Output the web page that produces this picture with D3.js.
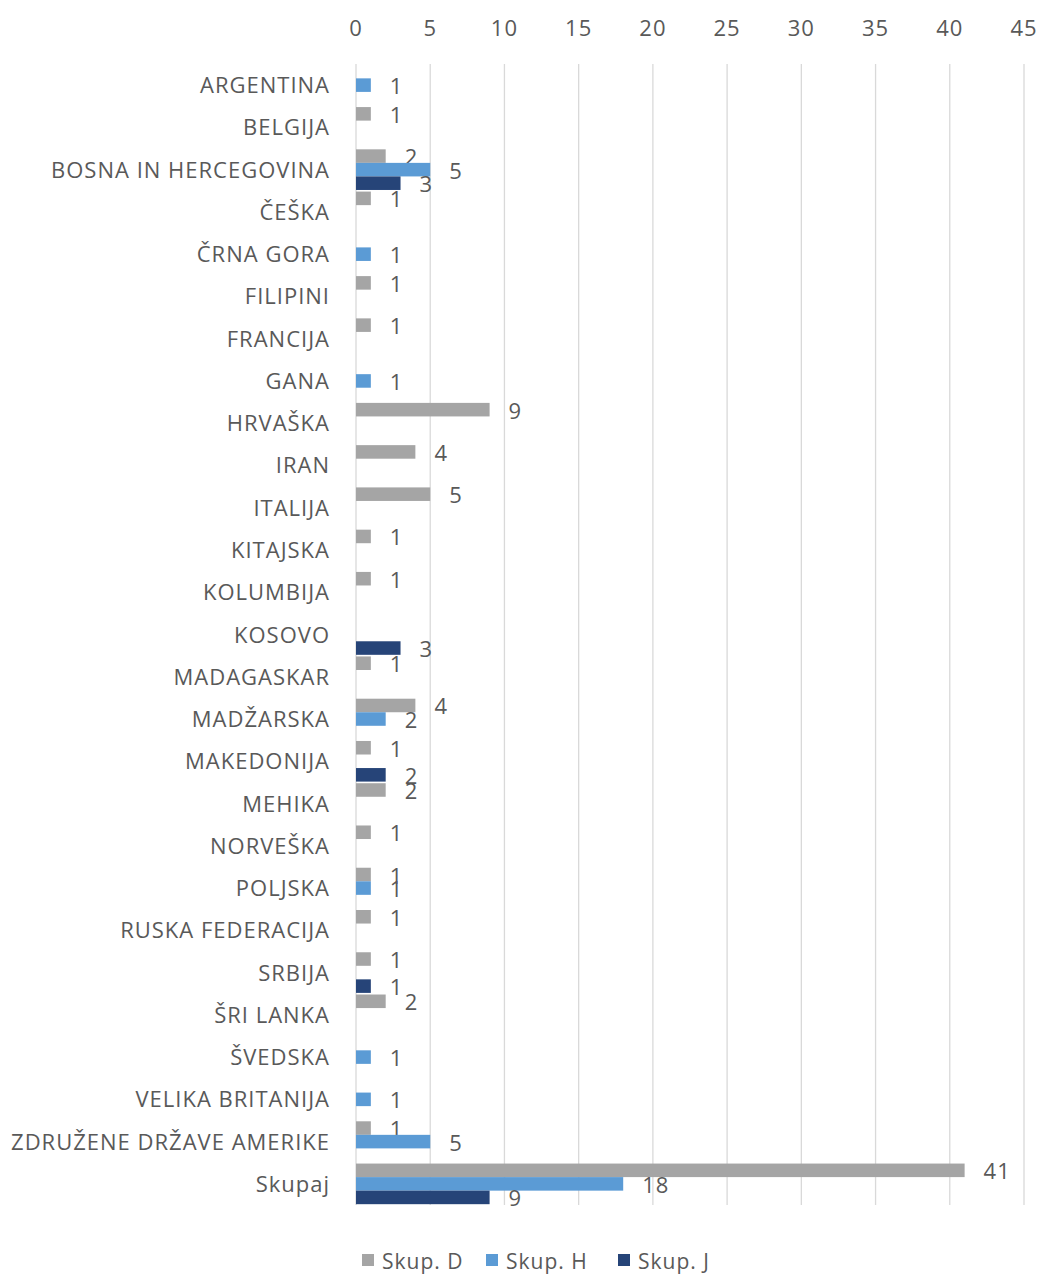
<!DOCTYPE html>
<html>
<head>
<meta charset="utf-8">
<script src="https://cdn.jsdelivr.net/npm/d3@7"></script>
<style>
  body { margin: 0; background: #fff; }
  text { font-family: "Open Sans", "Noto Sans", sans-serif; fill: #595959; letter-spacing: 1px; }
</style>
</head>
<body>
<div id="chart"></div>
<script>
const categories = ['ARGENTINA', 'BELGIJA', 'BOSNA IN HERCEGOVINA', 'ČEŠKA', 'ČRNA GORA', 'FILIPINI', 'FRANCIJA', 'GANA',
  'HRVAŠKA', 'IRAN', 'ITALIJA', 'KITAJSKA', 'KOLUMBIJA', 'KOSOVO', 'MADAGASKAR', 'MADŽARSKA', 'MAKEDONIJA', 'MEHIKA',
  'NORVEŠKA', 'POLJSKA', 'RUSKA FEDERACIJA', 'SRBIJA', 'ŠRI LANKA', 'ŠVEDSKA', 'VELIKA BRITANIJA', 'ZDRUŽENE DRŽAVE AMERIKE', 'Skupaj'];
const skupD = [null, 1, 2, 1, null, 1, 1, null, 9, 4, 5, 1, 1, null, 1, 4, 1, 2, 1, 1, 1, 1, 2, null, null, 1, 41];
const skupH = [1, null, 5, null, 1, null, null, 1, null, null, null, null, null, null, null, 2, null, null, null, 1, null, null, null, 1, 1, 5, 18];
const skupJ = [null, null, 3, null, null, null, null, null, null, null, null, null, null, 3, null, null, 2, null, null, null, null, 1, null, null, null, null, 9];
const seriesNames = ['Skup. D', 'Skup. H', 'Skup. J'];
const colors = ['#A5A5A5', '#5B9BD5', '#264478'];
const xTicks = [0, 5, 10, 15, 20, 25, 30, 35, 40, 45];

const width = 1042, height = 1275;
const margin = { top: 64, right: 18, bottom: 70, left: 356 };

const svg = d3.select('#chart').append('svg').attr('width', width).attr('height', height);

const x = d3.scaleLinear().domain([0, 45]).range([margin.left, 1024]);
const y = d3.scaleBand().domain(categories).range([margin.top, 1205]);
const inner = d3.scaleBand().domain(seriesNames).range([0, y.bandwidth()]).paddingOuter(0.06);

// gridlines
svg.append('g').selectAll('line').data(xTicks).enter().append('line')
  .attr('x1', d => x(d)).attr('x2', d => x(d))
  .attr('y1', margin.top).attr('y2', 1205)
  .attr('stroke', '#d9d9d9').attr('stroke-width', 1.3);

// top axis labels
svg.append('g').selectAll('text').data(xTicks).enter().append('text')
  .attr('x', d => x(d)).attr('y', 36)
  .attr('text-anchor', 'middle')
  .style('font-size', '22px')
  .text(d => d);

// category labels
svg.append('g').selectAll('text').data(categories).enter().append('text')
  .attr('x', 330).attr('y', d => y(d) + y.bandwidth() / 2 + 8)
  .attr('text-anchor', 'end')
  .style('font-size', '22px')
  .text(d => d);

const series = [skupD, skupH, skupJ];
series.forEach((vals, si) => {
  const rows = categories.map((c, i) => ({ c, v: vals[i] })).filter(d => d.v != null);
  const g = svg.append('g');
  g.selectAll('rect').data(rows).enter().append('rect')
    .attr('x', x(0))
    .attr('y', d => y(d.c) + inner(seriesNames[si]))
    .attr('width', d => x(d.v) - x(0))
    .attr('height', inner.bandwidth())
    .attr('fill', colors[si]);
  g.selectAll('text').data(rows).enter().append('text')
    .attr('x', d => x(d.v) + 19)
    .attr('y', d => y(d.c) + inner(seriesNames[si]) + inner.bandwidth() / 2 + 9)
    .style('font-size', '22px')
    .text(d => d.v);
});

// legend
const legendX = [362, 486, 618];
const legend = svg.append('g');
seriesNames.forEach((n, i) => {
  legend.append('rect').attr('x', legendX[i]).attr('y', 1254).attr('width', 12).attr('height', 12).attr('fill', colors[i]);
  legend.append('text').attr('x', legendX[i] + 20).attr('y', 1269).style('font-size', '21px').text(n);
});
</script>
</body>
</html>
